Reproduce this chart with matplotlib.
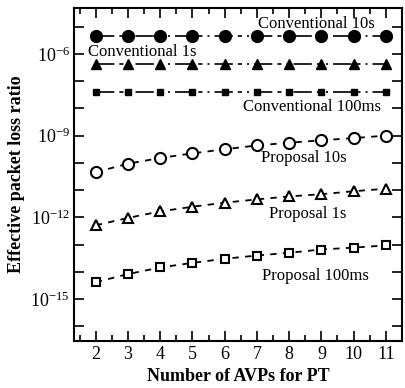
import numpy as np
import matplotlib
matplotlib.use('Agg')
import matplotlib.pyplot as plt
from matplotlib.ticker import FixedLocator, FixedFormatter, MultipleLocator

plt.rcParams['font.family'] = 'Liberation Serif'
plt.rcParams['mathtext.fontset'] = 'custom'
plt.rcParams['mathtext.rm'] = 'Liberation Serif'
plt.rcParams['mathtext.it'] = 'Liberation Serif:italic'

n_avp = [2, 3, 4, 5, 6, 7, 8, 9, 10, 11]

conv_10s = [4.6e-6] * 10
conv_1s = [4.3e-7] * 10
conv_100ms = [4.1e-8] * 10

# log10 values
prop_10s_log = [-10.34, -10.03, -9.82, -9.65, -9.50, -9.36, -9.26, -9.17, -9.09, -9.00]
prop_1s_log = [-12.29, -12.02, -11.78, -11.61, -11.46, -11.34, -11.23, -11.15, -11.04, -10.95]
prop_100ms_log = [-14.38, -14.08, -13.84, -13.67, -13.52, -13.40, -13.30, -13.18, -13.11, -13.03]

prop_10s = [10 ** v for v in prop_10s_log]
prop_1s = [10 ** v for v in prop_1s_log]
prop_100ms = [10 ** v for v in prop_100ms_log]

fig = plt.figure(figsize=(4.06, 3.88), dpi=100)
ax = fig.add_axes([0.182, 0.121, 0.808, 0.858])

conv_ls = (0, (11, 3, 2.5, 3, 1.2, 3))
prop_ls = (0, (3.5, 3.5))

ax.plot(n_avp, conv_10s, color='k', linestyle=conv_ls, lw=1.2, marker='o', ms=8.5)
ax.plot(n_avp, conv_1s, color='k', linestyle=conv_ls, lw=1.2, marker='^', ms=7.5)
ax.plot(n_avp, conv_100ms, color='k', linestyle=conv_ls, lw=1.2, marker='s', ms=4.8)
ax.plot(n_avp, prop_10s, color='k', linestyle=prop_ls, lw=1.3, marker='o', ms=8,
        mfc='white', mew=1.5)
ax.plot(n_avp, prop_1s, color='k', linestyle=prop_ls, lw=1.3, marker='^', ms=7,
        mfc='white', mew=1.5)
ax.plot(n_avp, prop_100ms, color='k', linestyle=prop_ls, lw=1.3, marker='s', ms=6,
        mfc='white', mew=1.5)

ax.set_yscale('log')
ax.set_xlim(1.32, 11.5)
ax.set_ylim(10 ** -16.54, 10 ** -4.32)

ax.xaxis.set_major_locator(FixedLocator(n_avp))
ax.xaxis.set_minor_locator(MultipleLocator(0.5))
decades = [10.0 ** e for e in range(-16, -4)]
ax.yaxis.set_major_locator(FixedLocator(decades))
ax.yaxis.set_major_formatter(FixedFormatter(
    [r'$10^{%d}$' % e if e in (-6, -9, -12, -15) else '' for e in range(-16, -4)]))
ax.yaxis.set_minor_locator(FixedLocator([]))

ax.tick_params(which='both', direction='in', top=True, right=True, labelsize=13)
ax.tick_params(which='major', length=7, width=1.2)
ax.tick_params(which='minor', length=4, width=1.2)
ax.tick_params(axis='y', pad=3)
for s in ax.spines.values():
    s.set_linewidth(1.5)

fs = 12
ax.text(7.03, 10 ** -4.90, 'Conventional 10s', fontsize=fs, va='center', ha='left')
ax.text(1.75, 10 ** -5.93, 'Conventional 1s', fontsize=fs, va='center', ha='left')
ax.text(6.57, 10 ** -7.94, 'Conventional 100ms', fontsize=fs, va='center', ha='left')
ax.text(7.12, 10 ** -9.81, 'Proposal 10s', fontsize=fs, va='center', ha='left')
ax.text(7.37, 10 ** -11.89, 'Proposal 1s', fontsize=fs, va='center', ha='left')
ax.text(7.16, 10 ** -14.15, 'Proposal 100ms', fontsize=fs, va='center', ha='left')

ax.set_xlabel('Number of AVPs for PT', fontsize=13, fontweight='bold', labelpad=4)
ax.set_ylabel('Effective packet loss ratio', fontsize=13, fontweight='bold', labelpad=4)

fig.savefig('out.png', dpi=100)
